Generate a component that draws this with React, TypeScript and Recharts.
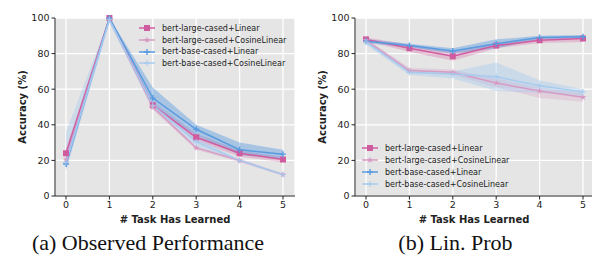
import React from "react";
import {
  Area,
  CartesianGrid,
  ComposedChart,
  Label,
  Line,
  XAxis,
  YAxis,
} from "recharts";

// x positions: how many tasks have been learned
const TASKS = [0, 1, 2, 3, 4, 5];
const Y_TICKS = [0, 20, 40, 60, 80, 100];

const NAMES = [
  "bert-large-cased+Linear",
  "bert-large-cased+CosineLinear",
  "bert-base-cased+Linear",
  "bert-base-cased+CosineLinear",
];

// (a) Observed Performance, mean and band
const OBS_LARGE_LIN = [24, 100, 51, 33, 24, 20.5];
const OBS_LARGE_LIN_LO = [20, 99, 49, 31, 22, 19];
const OBS_LARGE_LIN_HI = [27, 100, 53, 35, 25.5, 22];
const OBS_LARGE_COS = [20.5, 99.5, 50, 27, 20, 12];
const OBS_LARGE_COS_LO = [16, 98, 48.5, 26, 19, 11.5];
const OBS_LARGE_COS_HI = [24, 100, 51.5, 28, 21, 12.5];
const OBS_BASE_LIN = [18, 100, 55, 37.5, 26, 23.5];
const OBS_BASE_LIN_LO = [15, 99, 50, 34, 23, 21];
const OBS_BASE_LIN_HI = [22, 100, 61, 40, 30, 26];
const OBS_BASE_COS = [19, 99, 51, 30.5, 20, 12];
const OBS_BASE_COS_LO = [14, 97, 49, 28, 19.5, 11.5];
const OBS_BASE_COS_HI = [36, 100, 53, 33, 20.5, 12.5];

// (b) Lin. Prob, mean and band
const LP_LARGE_LIN = [88, 83, 78.5, 84.5, 87.5, 88.5];
const LP_LARGE_LIN_LO = [87, 81, 76, 83, 86, 86.5];
const LP_LARGE_LIN_HI = [89, 85, 81, 86, 89, 90];
const LP_LARGE_COS = [87.5, 70.5, 69.5, 63.5, 59, 55.5];
const LP_LARGE_COS_LO = [86.5, 69, 68, 61, 55, 53];
const LP_LARGE_COS_HI = [88.5, 72, 71, 66, 61, 58];
const LP_BASE_LIN = [87, 84.5, 81.5, 85.5, 89, 89.5];
const LP_BASE_LIN_LO = [86, 83.5, 80, 83, 88, 88.5];
const LP_BASE_LIN_HI = [88, 85.5, 83, 88, 90, 90.5];
const LP_BASE_COS = [86.5, 69.5, 68.5, 67, 62, 58.5];
const LP_BASE_COS_LO = [85, 68, 66, 59, 58, 56];
const LP_BASE_COS_HI = [88, 71, 70, 75, 65, 60];

const COLORS = ["#d05ca0", "#d79bc3", "#5a9be0", "#a6cbef"];
const BAND_OPACITY = [0.3, 0.3, 0.45, 0.4];
const SHAPES = ["square", "star", "plus", "plus"];

const FONT = "'DejaVu Sans', sans-serif";
const INK = "#222";

type Band = { mean: number[]; lo: number[]; hi: number[] };

const OBS: Band[] = [
  { mean: OBS_LARGE_LIN, lo: OBS_LARGE_LIN_LO, hi: OBS_LARGE_LIN_HI },
  { mean: OBS_LARGE_COS, lo: OBS_LARGE_COS_LO, hi: OBS_LARGE_COS_HI },
  { mean: OBS_BASE_LIN, lo: OBS_BASE_LIN_LO, hi: OBS_BASE_LIN_HI },
  { mean: OBS_BASE_COS, lo: OBS_BASE_COS_LO, hi: OBS_BASE_COS_HI },
];
const LP: Band[] = [
  { mean: LP_LARGE_LIN, lo: LP_LARGE_LIN_LO, hi: LP_LARGE_LIN_HI },
  { mean: LP_LARGE_COS, lo: LP_LARGE_COS_LO, hi: LP_LARGE_COS_HI },
  { mean: LP_BASE_LIN, lo: LP_BASE_LIN_LO, hi: LP_BASE_LIN_HI },
  { mean: LP_BASE_COS, lo: LP_BASE_COS_LO, hi: LP_BASE_COS_HI },
];

const buildRows = (series: Band[]) =>
  TASKS.map((t, i) => {
    const r: any = { t };
    series.forEach((s, k) => {
      r[`m${k}`] = s.mean[i];
      r[`b${k}`] = [s.lo[i], s.hi[i]];
    });
    return r;
  });

function Mark({ cx, cy, shape, color, thin }: any) {
  if (cx == null || cy == null) return null;
  if (shape === "square")
    return <rect x={cx - 3} y={cy - 3} width={6} height={6} fill={color} />;
  if (shape === "star") {
    const pts = [];
    for (let j = 0; j < 10; j++) {
      const r = j % 2 === 0 ? 3.3 : 1.4;
      const a = -Math.PI / 2 + (j * Math.PI) / 5;
      pts.push(`${cx + r * Math.cos(a)},${cy + r * Math.sin(a)}`);
    }
    return <polygon points={pts.join(" ")} fill={color} />;
  }
  return (
    <path
      d={`M${cx - 3},${cy}h6M${cx},${cy - 3}v6`}
      stroke={color}
      strokeWidth={thin ? 1 : 1.4}
      fill="none"
    />
  );
}

function LegendBox({ left, top, rowH }: { left: number; top: number; rowH: number }) {
  return (
    <div
      style={{
        position: "absolute",
        left,
        top,
        fontFamily: FONT,
        fontSize: 8,
        color: INK,
      }}
    >
      {NAMES.map((n, k) => (
        <div
          key={n}
          style={{ display: "flex", alignItems: "center", height: rowH }}
        >
          <svg width={23} height={10} style={{ display: "block" }}>
            <line x1={0} x2={16} y1={5} y2={5} stroke={COLORS[k]} strokeWidth={1.5} />
            <Mark cx={8} cy={5} shape={SHAPES[k]} color={COLORS[k]} thin={k === 3} />
          </svg>
          <span style={{ whiteSpace: "nowrap" }}>{n}</span>
        </div>
      ))}
    </div>
  );
}

function Panel({
  series,
  width,
  padRight,
  marginRight,
}: {
  series: Band[];
  width: number;
  padRight: number;
  marginRight: number;
}) {
  const data = buildRows(series);
  return (
    <ComposedChart
      width={width}
      height={225}
      data={data}
      margin={{ top: 18, right: marginRight, left: 0, bottom: 0 }}
    >
      <CartesianGrid fill="#e5e5e5" stroke="#ffffff" strokeWidth={1.3} />
      <XAxis
        dataKey="t"
        type="number"
        domain={[0, 5]}
        ticks={TASKS}
        padding={{ left: 11, right: padRight }}
        height={29}
        tick={{ fontSize: 9.5, fill: INK, fontFamily: FONT }}
        tickSize={3.5}
        tickLine={{ stroke: INK }}
        axisLine={{ stroke: INK }}
      >
        <Label
          value="# Task Has Learned"
          position="insideBottom"
          offset={2}
          style={{ fontSize: 10, fontWeight: "bold", fill: INK, fontFamily: FONT }}
        />
      </XAxis>
      <XAxis
        xAxisId="top"
        orientation="top"
        dataKey="t"
        type="number"
        domain={[0, 5]}
        height={0}
        tick={false}
        tickLine={false}
        axisLine={{ stroke: "#444" }}
      />
      <YAxis
        domain={[0, 100]}
        ticks={Y_TICKS}
        width={55}
        tick={{ fontSize: 9.5, fill: INK, fontFamily: FONT }}
        tickSize={3.5}
        tickLine={{ stroke: INK }}
        axisLine={{ stroke: INK }}
      >
        <Label
          content={(p: any) => {
            const vb = p.viewBox || { y: 18, height: 178 };
            const cy = vb.y + vb.height / 2;
            return (
              <text
                x={22}
                y={cy}
                transform={`rotate(-90 22 ${cy})`}
                textAnchor="middle"
                dominantBaseline="central"
                style={{ fontSize: 10, fontWeight: "bold", fill: INK, fontFamily: FONT }}
              >
                Accuracy (%)
              </text>
            );
          }}
        />
      </YAxis>
      <YAxis
        yAxisId="right"
        orientation="right"
        width={0}
        tick={false}
        tickLine={false}
        axisLine={{ stroke: "#444" }}
      />
      {series.map((_, k) => (
        <Area
          key={`b${k}`}
          dataKey={`b${k}`}
          type="linear"
          stroke="none"
          fill={COLORS[k]}
          fillOpacity={BAND_OPACITY[k]}
          legendType="none"
          isAnimationActive={false}
        />
      ))}
      {series.map((_, k) => (
        <Line
          key={`m${k}`}
          dataKey={`m${k}`}
          name={NAMES[k]}
          type="linear"
          stroke={COLORS[k]}
          strokeWidth={1.5}
          activeDot={false}
          dot={(p: any) => (
            <Mark
              key={`d${k}-${p.index}`}
              cx={p.cx}
              cy={p.cy}
              shape={SHAPES[k]}
              color={COLORS[k]}
              thin={k === 3}
            />
          )}
          isAnimationActive={false}
        />
      ))}
    </ComposedChart>
  );
}

const captionStyle: React.CSSProperties = {
  position: "absolute",
  top: 230,
  width: 300,
  fontFamily: "'Liberation Serif', 'Times New Roman', serif",
  fontSize: 22,
  color: "#111",
  textAlign: "center",
  whiteSpace: "nowrap",
};

export default function App() {
  return (
    <div
      style={{
        position: "absolute",
        left: 0,
        top: 0,
        width: 592,
        height: 260,
        overflow: "hidden",
        background: "#fff",
      }}
    >
      <div style={{ position: "absolute", left: 0, top: 0 }}>
        <Panel series={OBS} width={300} padRight={12} marginRight={5} />
        <LegendBox left={139} top={22.5} rowH={11.7} />
      </div>
      <div style={{ position: "absolute", left: 300, top: 0 }}>
        <Panel series={LP} width={293} padRight={10} marginRight={0} />
        <LegendBox left={62} top={142.3} rowH={12} />
      </div>
      <div style={{ ...captionStyle, left: -2 }}>(a) Observed Performance</div>
      <div style={{ ...captionStyle, left: 305.5 }}>(b) Lin. Prob</div>
    </div>
  );
}
